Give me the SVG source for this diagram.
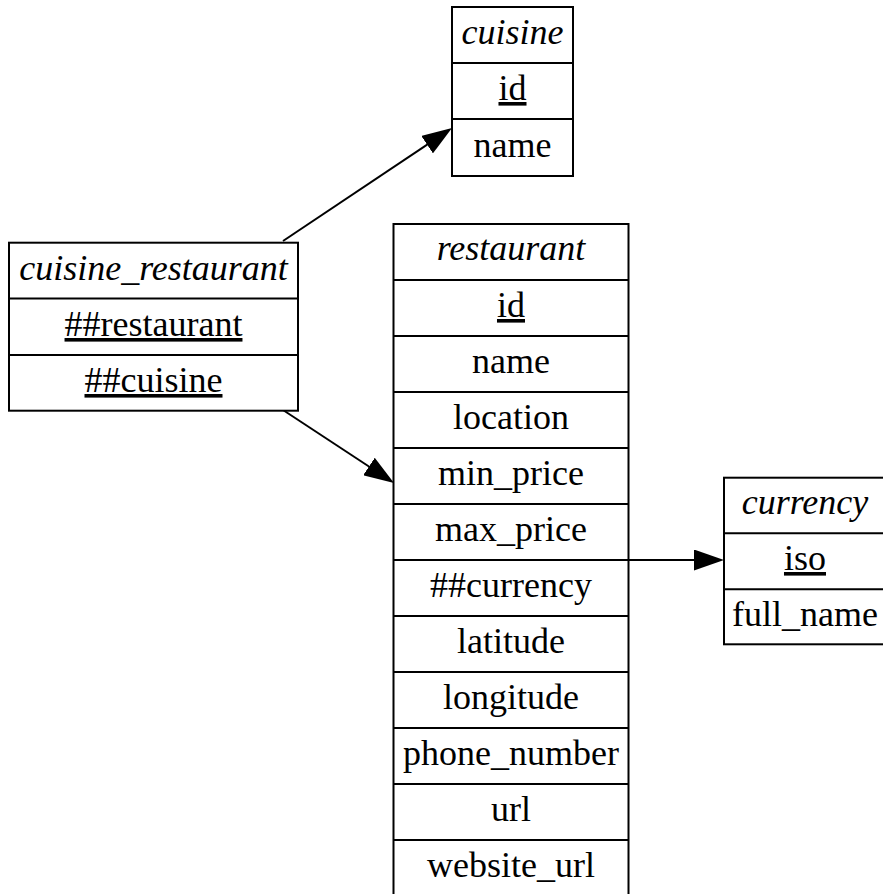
<svg xmlns="http://www.w3.org/2000/svg" width="883" height="894" viewBox="0 0 883 894">
<style>
.box{fill:#fff;stroke:#000;stroke-width:2}
.div{stroke:#000;stroke-width:2}
text{font-family:"Liberation Serif","Times New Roman",serif;font-size:36px;fill:#000;text-anchor:middle}
.h{font-style:italic}
.u{text-decoration:underline}
.edge{fill:none;stroke:#000;stroke-width:2}
</style>
<defs>
<marker id="arr" viewBox="0 0 30 21" refX="10" refY="10.5" markerWidth="30" markerHeight="21" markerUnits="userSpaceOnUse" orient="auto">
<path d="M0,0 L30,10.5 L0,21 z" fill="#000"/>
</marker>
</defs>
<rect width="883" height="894" fill="#fff"/>
<g id="connectors">
<path class="edge" d="M283,241 L435.4,139.1" marker-end="url(#arr)"/>
<path class="edge" d="M283,410 L377.3,472" marker-end="url(#arr)"/>
<path class="edge" d="M628,560 L704,560" marker-end="url(#arr)"/>
</g>
<g id="cuisine">
<rect class="box" x="452" y="7" width="121" height="169"/>
<line class="div" x1="452" y1="63" x2="573" y2="63"/>
<line class="div" x1="452" y1="119" x2="573" y2="119"/>
<text class="h" x="512.5" y="44">cuisine</text>
<text class="u" x="512.5" y="100">id</text>
<text x="512.5" y="157">name</text>
</g>
<g id="cuisine_restaurant">
<rect class="box" x="9" y="242.7" width="289" height="168"/>
<line class="div" x1="9" y1="298.5" x2="298" y2="298.5"/>
<line class="div" x1="9" y1="355" x2="298" y2="355"/>
<text class="h" x="153.5" y="280">cuisine_restaurant</text>
<text class="u" x="153.5" y="336">##restaurant</text>
<text class="u" x="153.5" y="392">##cuisine</text>
</g>
<g id="restaurant">
<rect class="box" x="393.5" y="224" width="235" height="672"/>
<line class="div" x1="393.5" y1="280" x2="628.5" y2="280"/>
<line class="div" x1="393.5" y1="336" x2="628.5" y2="336"/>
<line class="div" x1="393.5" y1="392" x2="628.5" y2="392"/>
<line class="div" x1="393.5" y1="448" x2="628.5" y2="448"/>
<line class="div" x1="393.5" y1="504" x2="628.5" y2="504"/>
<line class="div" x1="393.5" y1="560" x2="628.5" y2="560"/>
<line class="div" x1="393.5" y1="616" x2="628.5" y2="616"/>
<line class="div" x1="393.5" y1="672" x2="628.5" y2="672"/>
<line class="div" x1="393.5" y1="728" x2="628.5" y2="728"/>
<line class="div" x1="393.5" y1="784" x2="628.5" y2="784"/>
<line class="div" x1="393.5" y1="840" x2="628.5" y2="840"/>
<text class="h" x="511" y="260">restaurant</text>
<text class="u" x="511" y="317">id</text>
<text x="511" y="373">name</text>
<text x="511" y="429">location</text>
<text x="511" y="485">min_price</text>
<text x="511" y="541">max_price</text>
<text x="511" y="597">##currency</text>
<text x="511" y="653">latitude</text>
<text x="511" y="709">longitude</text>
<text x="511" y="765">phone_number</text>
<text x="511" y="821">url</text>
<text x="511" y="877">website_url</text>
</g>
<g id="currency">
<rect class="box" x="724" y="477.7" width="162" height="166.6"/>
<line class="div" x1="724" y1="533.3" x2="886" y2="533.3"/>
<line class="div" x1="724" y1="589.3" x2="886" y2="589.3"/>
<text class="h" x="805" y="514">currency</text>
<text class="u" x="805" y="570">iso</text>
<text x="805" y="626">full_name</text>
</g>
</svg>
